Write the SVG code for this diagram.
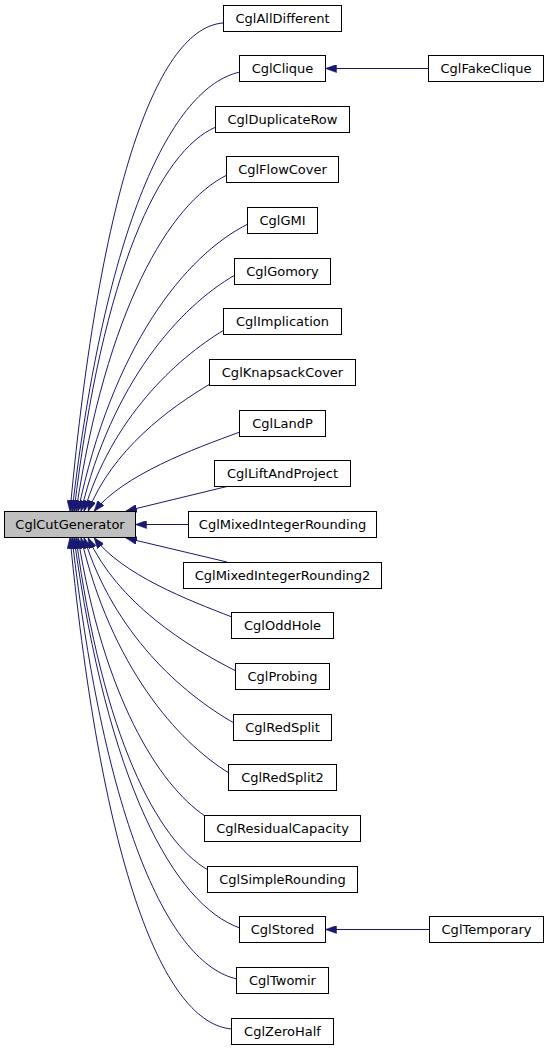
<svg xmlns="http://www.w3.org/2000/svg" width="549" height="1051" viewBox="0 0 549 1051">
<style>
.n rect{fill:#ffffff;stroke:#000000;stroke-width:1}
.n text{font-family:"DejaVu Sans",sans-serif;font-size:13px;fill:#000000;text-anchor:middle}
#node-CglCutGenerator rect{fill:#bfbfbf}
.e{fill:none;stroke:#191970;stroke-width:1;marker-end:url(#arr)}
</style>
<defs>
<marker id="arr" markerUnits="userSpaceOnUse" markerWidth="11" markerHeight="8" refX="11" refY="4" orient="auto" viewBox="0 0 11 8">
<polygon points="0,0 11,4 0,8" fill="#191970" stroke="#191970" stroke-width="0.5"/>
</marker>
</defs>
<rect width="549" height="1051" fill="#ffffff"/>
<g id="edges">
<path class="e" d="M223,23 C158.7,27.9 100.6,179.5 70,511.5"/>
<path class="e" d="M240,72 C171.5,87 105.6,224.2 72,511.5"/>
<path class="e" d="M216,127 C160,150.5 102.4,271.5 74,511.5"/>
<path class="e" d="M227,175 C169.2,203.5 106.2,310.1 76,511.5"/>
<path class="e" d="M248,224 C185,255.3 112,347 78,511.5"/>
<path class="e" d="M235,275 C179.9,306.7 111.8,382.6 81,511.5"/>
<path class="e" d="M224,330 C175.7,359.3 112,418 84,511.5"/>
<path class="e" d="M210,384 C169.6,408 112.4,449.5 88,511.5"/>
<path class="e" d="M240,432 C193.3,448.9 123.2,475 94,511.5"/>
<path class="e" d="M229,486 L126,511"/>
<path class="e" d="M188.5,524.5 L135.5,524.5"/>
<path class="e" d="M227,562 L126,538"/>
<path class="e" d="M232,617 C188.5,600.3 121.8,574.5 94,537.5"/>
<path class="e" d="M236,671 C187.4,646.4 117.8,603.3 88,537.5"/>
<path class="e" d="M234,723 C182.2,693.5 114,633.9 84,537.5"/>
<path class="e" d="M229,773 C177.3,741.4 111,666.1 81,537.5"/>
<path class="e" d="M205,816 C158.3,784.5 103.4,695.9 78,537.5"/>
<path class="e" d="M208,870 C157.6,841.1 102.4,736 76,537.5"/>
<path class="e" d="M240,928 C174.3,905.2 107.2,782.7 74,537.5"/>
<path class="e" d="M237,979 C169.7,964.2 105,826.6 72,537.5"/>
<path class="e" d="M232,1029 C164.5,1024.1 102.6,871.9 70,537.5"/>
<path class="e" d="M428.5,68.5 L325.5,68.5"/>
<path class="e" d="M429.5,929.5 L325.5,929.5"/>
</g>
<g id="node-CglCutGenerator" class="n"><rect x="4.5" y="511.5" width="131" height="26"/><text x="70" y="529">CglCutGenerator</text></g>
<g id="node-CglAllDifferent" class="n"><rect x="223.5" y="5.5" width="118" height="26"/><text x="282.5" y="23">CglAllDifferent</text></g>
<g id="node-CglClique" class="n"><rect x="239.5" y="55.5" width="86" height="26"/><text x="282.5" y="73">CglClique</text></g>
<g id="node-CglFakeClique" class="n"><rect x="428.5" y="55.5" width="115" height="26"/><text x="486" y="73">CglFakeClique</text></g>
<g id="node-CglDuplicateRow" class="n"><rect x="215.5" y="106.5" width="134" height="26"/><text x="282.5" y="124">CglDuplicateRow</text></g>
<g id="node-CglFlowCover" class="n"><rect x="226.5" y="156.5" width="112" height="26"/><text x="282.5" y="174">CglFlowCover</text></g>
<g id="node-CglGMI" class="n"><rect x="247.5" y="207.5" width="70" height="26"/><text x="282.5" y="225">CglGMI</text></g>
<g id="node-CglGomory" class="n"><rect x="234.5" y="258.5" width="96" height="26"/><text x="282.5" y="276">CglGomory</text></g>
<g id="node-CglImplication" class="n"><rect x="223.5" y="308.5" width="118" height="26"/><text x="282.5" y="326">CglImplication</text></g>
<g id="node-CglKnapsackCover" class="n"><rect x="209.5" y="359.5" width="146" height="26"/><text x="282.5" y="377">CglKnapsackCover</text></g>
<g id="node-CglLandP" class="n"><rect x="239.5" y="410.5" width="86" height="26"/><text x="282.5" y="428">CglLandP</text></g>
<g id="node-CglLiftAndProject" class="n"><rect x="214.5" y="460.5" width="136" height="26"/><text x="282.5" y="478">CglLiftAndProject</text></g>
<g id="node-CglMixedIntegerRounding" class="n"><rect x="188.5" y="511.5" width="188" height="26"/><text x="282.5" y="529">CglMixedIntegerRounding</text></g>
<g id="node-CglMixedIntegerRounding2" class="n"><rect x="183.5" y="562.5" width="198" height="26"/><text x="282.5" y="580">CglMixedIntegerRounding2</text></g>
<g id="node-CglOddHole" class="n"><rect x="231.5" y="612.5" width="102" height="26"/><text x="282.5" y="630">CglOddHole</text></g>
<g id="node-CglProbing" class="n"><rect x="235.5" y="663.5" width="94" height="26"/><text x="282.5" y="681">CglProbing</text></g>
<g id="node-CglRedSplit" class="n"><rect x="233.5" y="714.5" width="98" height="26"/><text x="282.5" y="732">CglRedSplit</text></g>
<g id="node-CglRedSplit2" class="n"><rect x="228.5" y="764.5" width="108" height="26"/><text x="282.5" y="782">CglRedSplit2</text></g>
<g id="node-CglResidualCapacity" class="n"><rect x="204.5" y="815.5" width="156" height="26"/><text x="282.5" y="833">CglResidualCapacity</text></g>
<g id="node-CglSimpleRounding" class="n"><rect x="207.5" y="866.5" width="150" height="26"/><text x="282.5" y="884">CglSimpleRounding</text></g>
<g id="node-CglStored" class="n"><rect x="239.5" y="916.5" width="86" height="26"/><text x="282.5" y="934">CglStored</text></g>
<g id="node-CglTemporary" class="n"><rect x="429.5" y="916.5" width="114" height="26"/><text x="486.5" y="934">CglTemporary</text></g>
<g id="node-CglTwomir" class="n"><rect x="236.5" y="967.5" width="92" height="26"/><text x="282.5" y="985">CglTwomir</text></g>
<g id="node-CglZeroHalf" class="n"><rect x="231.5" y="1018.5" width="102" height="26"/><text x="282.5" y="1036">CglZeroHalf</text></g>
</svg>
